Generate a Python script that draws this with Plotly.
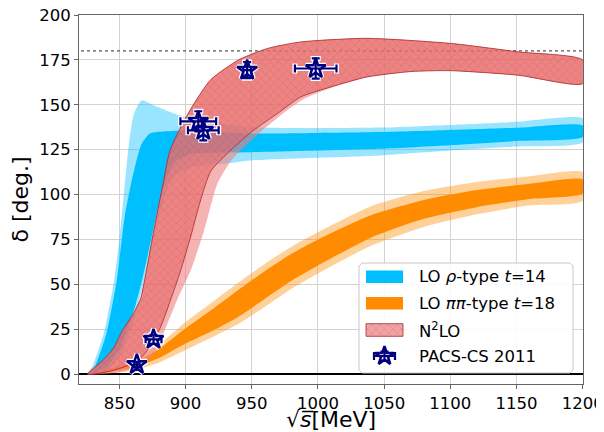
import plotly.graph_objects as go

# ---------------- data ----------------
# LO rho-type t=14 (blue): outer (light) and inner (dark) bands, upper/lower edges
BLUE_OUT_UP_X = [826, 830, 838, 842, 846, 850, 854, 857.5, 861, 867, 875, 885, 896, 911, 949, 1000, 1047, 1100, 1150, 1200]
BLUE_OUT_UP_Y = [0, 5, 22, 36, 52, 75, 105, 130, 145, 152.5, 150, 147, 144, 141.3, 137.6, 137, 137.3, 138.8, 140.5, 142.3]
BLUE_OUT_LO_X = [826, 840, 850, 856, 862, 868, 874, 880, 886, 893, 903, 915, 931, 949, 1000, 1047, 1100, 1150, 1200]
BLUE_OUT_LO_Y = [0, 2, 10, 20, 33, 50, 70, 88, 103, 111, 115, 116.5, 117.3, 119, 120.5, 121.8, 124.5, 126.8, 129.2]

BLUE_IN_UP_X = [827, 832, 840, 844, 848, 851, 854.3, 859.4, 864.4, 867, 873, 880, 896, 920, 950, 1000, 1047, 1100, 1150, 1200]
BLUE_IN_UP_Y = [0, 5, 22, 36, 52, 70, 89, 108, 123, 128.5, 134, 135, 135.6, 134.8, 134, 134.3, 134.8, 136, 137.2, 138.5]
BLUE_IN_LO_X = [827, 840, 850, 856, 862, 868, 874, 880, 886, 893, 903, 920, 950, 1000, 1047, 1100, 1150, 1200]
BLUE_IN_LO_Y = [0, 4, 14, 25, 38, 55, 75, 95, 110, 119, 122.5, 123.3, 123.6, 124.5, 125.5, 127.5, 129.8, 132]

# LO pi-pi-type t=18 (orange)
ORANGE_X = [826, 840, 860, 880, 900, 920, 940, 960, 980, 1000, 1040, 1080, 1120, 1160, 1200]
ORANGE_IN_HI = [0, 2, 6, 14, 25.5, 36, 47, 57.5, 67, 75, 88.5, 97, 102.5, 106, 108.4]
ORANGE_IN_LO = [0, 1, 3.5, 9, 17, 24, 32, 42, 52, 60.5, 76, 86.5, 93, 97.5, 100.6]
ORANGE_OUT_HI = [0, 2.5, 7.5, 16.5, 29, 40, 51, 61.5, 71, 79, 93.5, 102, 107, 110.2, 112.4]
ORANGE_OUT_LO = [0, 0.5, 2, 6.5, 13.5, 20.5, 28, 37.5, 47.5, 56, 71.5, 82, 89, 94, 96.6]

# N2LO (red hatched) and its outer light band
RED_UP_X = [826, 838, 846, 852, 860, 866, 871, 876, 883, 888, 896, 905, 919, 940, 962, 987, 1037, 1100, 1151, 1200]
RED_UP_Y = [0, 8, 15, 24, 33, 42, 60, 80, 106, 124, 137, 149, 164, 175, 181.4, 185, 187, 184.2, 179.5, 174.9]
RED_LO_X = [826, 845, 863, 872, 881, 889, 896, 904, 911, 919, 934, 950, 971, 987, 1010, 1037, 1070, 1100, 1151, 1200]
RED_LO_Y = [0, 2, 7, 14, 26, 42, 57, 77, 96, 113, 124.6, 135, 146, 154.4, 160, 165.5, 168.5, 169, 166.5, 161.8]
PINK_LO_X = [826, 850, 865, 875, 884, 894, 904, 914, 924, 934, 945, 960, 975, 990, 1010, 1037, 1070, 1100, 1151, 1200]
PINK_LO_Y = [0, 1, 4, 10, 24, 42, 58, 80, 106, 118.5, 127, 137, 146, 153.5, 159.5, 165.3, 168.4, 168.9, 166.4, 161.7]

# PACS-CS 2011 lattice points
PACS_X = [863.2, 875.8, 909.6, 913.4, 946.5, 998.3]
PACS_Y = [5.4, 19.4, 140.8, 135.8, 169.3, 170.2]
PACS_XERR = [2, 6, 13.5, 11.6, 3, 15.7]
PACS_YERR = [1.5, 2.5, 5.6, 5.6, 4.5, 5.6]

LEGEND_LABELS = ["LO <i>ρ</i>-type <i>t</i>=14", "LO <i>ππ</i>-type <i>t</i>=18",
                 "N<sup>2</sup>LO", "PACS-CS 2011"]

HALF_TURN = 180
X_RANGE = [819.5, 1200.2]
Y_RANGE = [-5.5, 200]
X_TICKS = [850, 900, 950, 1000, 1050, 1100, 1150, 1200]
Y_TICKS = [0, 25, 50, 75, 100, 125, 150, 175, 200]

FONT = "DejaVu Sans"
BLUE = "rgb(0,191,255)"
BLUE_L = "rgba(0,191,255,0.4)"
ORANGE = "rgb(255,140,0)"
ORANGE_L = "rgba(255,140,0,0.4)"
PINK = "rgba(240,128,128,0.6)"
HATCH_BG = "rgba(232,100,100,0.6)"
HATCH_FG = "rgba(165,45,45,0.6)"
HATCH_EDGE = "rgba(170,40,40,0.8)"
NAVY = "navy"

# page geometry (the browser body adds an 8 px margin around the figure)
PAGE_OFF = 8
WIN_W, WIN_H = 604, 432
PX_L, PX_R, PX_T, PX_B = 79, 583, 15, 384   # plot area in window pixels


def band(xu, yu, xl, yl, **kw):
    return go.Scatter(x=list(xu) + list(xl)[::-1], y=list(yu) + list(yl)[::-1],
                      fill="toself", mode="lines", hoverinfo="skip", showlegend=False, **kw)


def hatch():
    return dict(shape="x", bgcolor=HATCH_BG, fgcolor=HATCH_FG, size=6, solidity=0.15)


fig = go.Figure()
smooth = dict(shape="spline", smoothing=0.6)

# blue
fig.add_trace(band(BLUE_OUT_UP_X, BLUE_OUT_UP_Y, BLUE_OUT_LO_X, BLUE_OUT_LO_Y,
                   fillcolor=BLUE_L, line=dict(width=0, **smooth)))
fig.add_trace(band(BLUE_IN_UP_X, BLUE_IN_UP_Y, BLUE_IN_LO_X, BLUE_IN_LO_Y,
                   fillcolor=BLUE, line=dict(width=0, **smooth)))
# orange
fig.add_trace(band(ORANGE_X, ORANGE_OUT_HI, ORANGE_X, ORANGE_OUT_LO,
                   fillcolor=ORANGE_L, line=dict(width=0, **smooth)))
fig.add_trace(band(ORANGE_X, ORANGE_IN_HI, ORANGE_X, ORANGE_IN_LO,
                   fillcolor=ORANGE, line=dict(width=0, **smooth)))
# red
fig.add_trace(band(RED_UP_X, RED_UP_Y, PINK_LO_X, PINK_LO_Y,
                   fillcolor=PINK, line=dict(width=0, **smooth)))
fig.add_trace(band(RED_UP_X, RED_UP_Y, RED_LO_X, RED_LO_Y,
                   fillcolor=HATCH_BG, fillpattern=hatch(),
                   line=dict(width=1, color=HATCH_EDGE, **smooth)))

# data points: white halo then navy
fig.add_trace(go.Scatter(x=PACS_X, y=PACS_Y, mode="markers", showlegend=False, hoverinfo="skip",
                         marker=dict(symbol="star-open", size=15, color="white", line=dict(width=5, color="white")),
                         error_x=dict(type="data", array=PACS_XERR, color="white", thickness=5, width=5),
                         error_y=dict(type="data", array=PACS_YERR, color="white", thickness=5, width=5)))
fig.add_trace(go.Scatter(x=PACS_X, y=PACS_Y, mode="markers", showlegend=False,
                         marker=dict(symbol="star-open", size=15, color=NAVY, line=dict(width=2.5, color=NAVY)),
                         error_x=dict(type="data", array=PACS_XERR, color=NAVY, thickness=2.2, width=4),
                         error_y=dict(type="data", array=PACS_YERR, color=NAVY, thickness=2.2, width=4)))

fig.add_shape(type="line", xref="x", yref="y", x0=X_RANGE[0] + 1.5, x1=X_RANGE[1],
              y0=HALF_TURN, y1=HALF_TURN, line=dict(color="#555555", width=1.2, dash="dot"),
              layer="between")

# ---------------- hand-made legend on an overlay (0..1) axis pair ----------------


def fx(px):
    return (px - PX_L) / (PX_R - PX_L)


def fy(py):
    return (PX_B - py) / (PX_B - PX_T)


bx0, bx1, by0, by1 = fx(359), fx(573), fy(373), fy(263)
rx, ry = 3 / (PX_R - PX_L), 3 / (PX_B - PX_T)
ov = dict(xaxis="x2", yaxis="y2", hoverinfo="skip", showlegend=False)
fig.add_trace(go.Scatter(
    x=[bx0 + rx, bx1 - rx, bx1, bx1, bx1 - rx, bx0 + rx, bx0, bx0, bx0 + rx],
    y=[by0, by0, by0 + ry, by1 - ry, by1, by1, by1 - ry, by0 + ry, by0],
    mode="lines", fill="toself", fillcolor="rgba(255,255,255,0.85)",
    line=dict(color="#c8c8c8", width=1), **ov))
row_y = [fy(276.7), fy(303.3), fy(330), fy(356)]
sx0, sx1 = fx(366), fx(403)
hh = 6.3 / (PX_B - PX_T)
for i, (col, edge, pat) in enumerate([(BLUE, None, None), (ORANGE, None, None), (HATCH_BG, HATCH_EDGE, hatch())]):
    yc = row_y[i]
    kw = dict(fillpattern=pat) if pat else {}
    fig.add_trace(go.Scatter(x=[sx0, sx1, sx1, sx0, sx0], y=[yc - hh, yc - hh, yc + hh, yc + hh, yc - hh],
                             mode="lines", fill="toself", fillcolor=col,
                             line=dict(width=1 if edge else 0, color=edge or col), **kw, **ov))
mx = (sx0 + sx1) / 2
for colr, lw, th, cw in [("white", 5, 5, 5), (NAVY, 2.5, 2.2, 4)]:
    fig.add_trace(go.Scatter(x=[mx], y=[row_y[3]], mode="markers",
                             marker=dict(symbol="star-open", size=14, color=colr, line=dict(width=lw, color=colr)),
                             error_x=dict(type="data", array=[fx(395) - fx(384.5)], color=colr, thickness=th, width=cw),
                             error_y=dict(type="data", array=[4.5 / (PX_B - PX_T)], color=colr, thickness=th, width=cw),
                             **ov))
for i, lab in enumerate(LEGEND_LABELS):
    fig.add_annotation(x=fx(416.5), y=row_y[i], xref="x2", yref="y2", text=lab, showarrow=False,
                       xanchor="left", yanchor="middle", font=dict(family=FONT, size=16.5, color="black"))

axis_common = dict(showgrid=True, gridcolor="#d3d3d3", gridwidth=1, ticks="outside", ticklen=4,
                   tickcolor="#666666", showline=True, linecolor="#666666", linewidth=1, mirror=True,
                   automargin=False, ticklabeloverflow="allow",
                   tickfont=dict(family=FONT, size=16.5, color="black"))

fig.update_layout(
    width=WIN_W - PAGE_OFF, height=WIN_H - PAGE_OFF,
    margin=dict(l=PX_L - PAGE_OFF, r=WIN_W - PX_R, t=PX_T - PAGE_OFF, b=WIN_H - PX_B, pad=0),
    paper_bgcolor="white", plot_bgcolor="white",
    font=dict(family=FONT, color="black"),
    showlegend=False,
    xaxis=dict(range=X_RANGE, tickvals=X_TICKS, zeroline=False,
               title=dict(text="√<i>s̅</i>[MeV]",
                          font=dict(family=FONT, size=22), standoff=2),
               **axis_common),
    yaxis=dict(range=Y_RANGE, tickvals=Y_TICKS, zeroline=True, zerolinecolor="black", zerolinewidth=1.5,
               title=dict(text="δ [deg.]", font=dict(family=FONT, size=22), standoff=5),
               **axis_common),
    xaxis2=dict(overlaying="x", anchor="y2", range=[0, 1], visible=False, fixedrange=True),
    yaxis2=dict(overlaying="y", anchor="x2", range=[0, 1], visible=False, fixedrange=True),
)

fig.write_html("out.html")
